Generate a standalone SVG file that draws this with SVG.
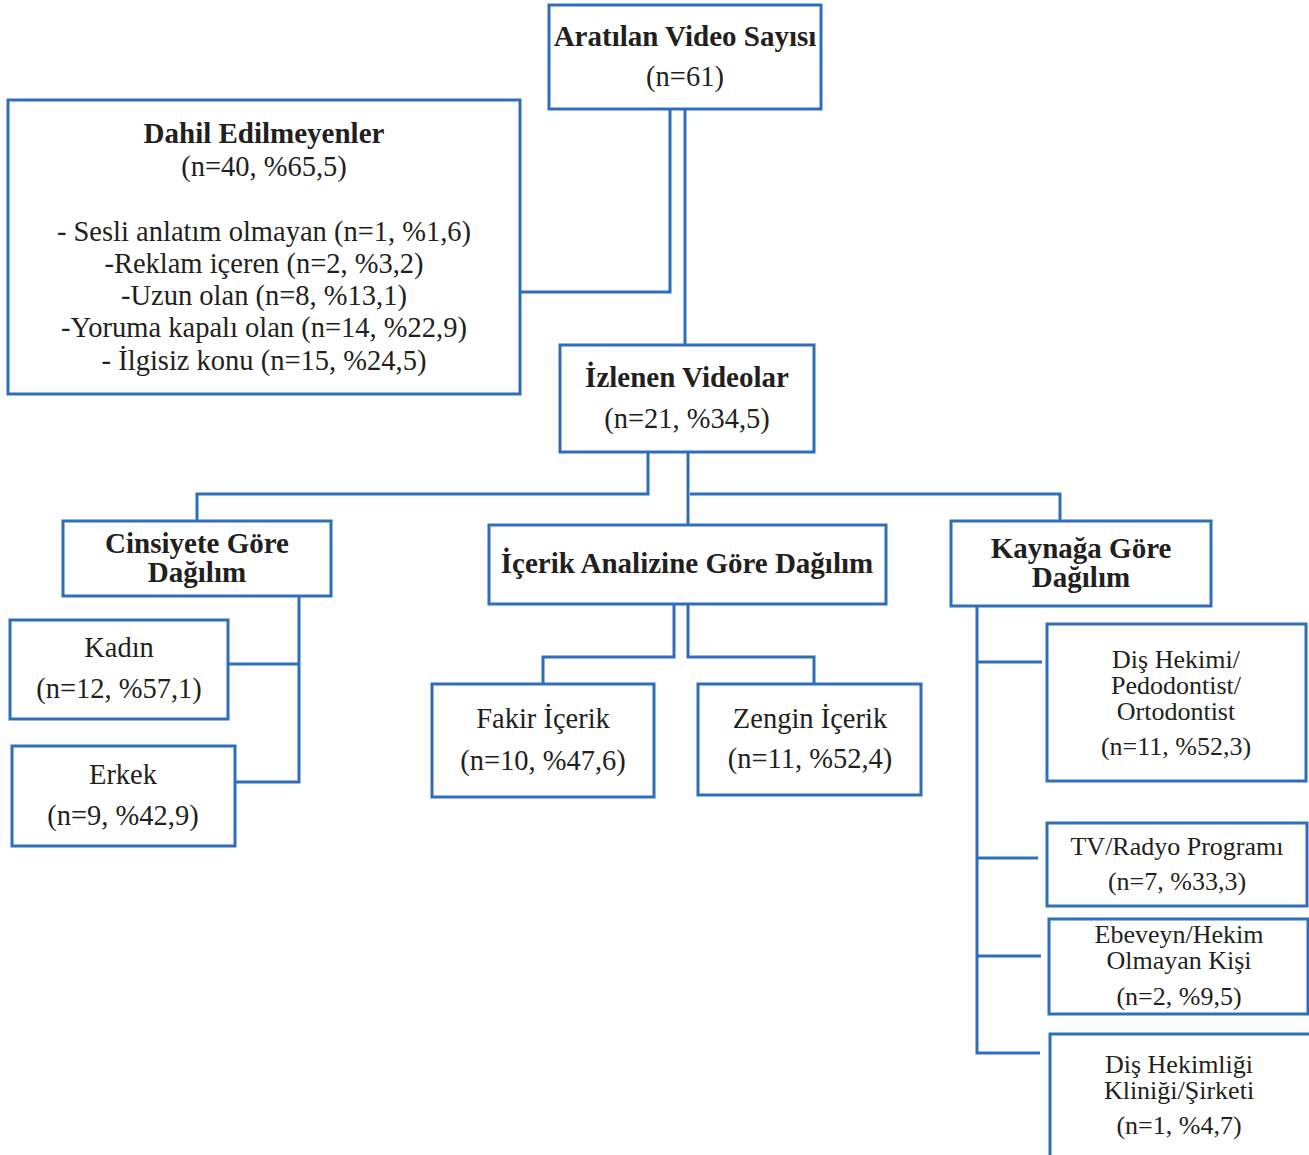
<svg xmlns="http://www.w3.org/2000/svg" width="1309" height="1155" viewBox="0 0 1309 1155">
<style>
.box{fill:#fff;stroke:#2F6EBA;stroke-width:3}
.ln{fill:none;stroke:#2F6EBA;stroke-width:3}
text{font-family:"Liberation Serif","DejaVu Serif",serif;fill:#231F20;text-anchor:middle}
.b{font-weight:bold;font-size:29px}
.t{font-size:28.5px}
.s{font-size:26px}
</style>
<rect width="1309" height="1155" fill="#fff"/>
<g id="connectors">
<polyline class="ln" points="670,109 670,292 520,292"/>
<polyline class="ln" points="685,109 685,345"/>
<polyline class="ln" points="648,452 648,494 197,494 197,521"/>
<polyline class="ln" points="688,452 688,525"/>
<polyline class="ln" points="690,494 1060,494 1060,521"/>
<polyline class="ln" points="299,596 299,782 235,782"/>
<line class="ln" x1="228" y1="664" x2="299" y2="664"/>
<polyline class="ln" points="674,604 674,657 543,657 543,684"/>
<polyline class="ln" points="688,604 688,657 814,657 814,684"/>
<polyline class="ln" points="977,606 977,1053 1040,1053"/>
<line class="ln" x1="977" y1="662" x2="1042" y2="662"/>
<line class="ln" x1="977" y1="858" x2="1038" y2="858"/>
<line class="ln" x1="977" y1="956" x2="1041" y2="956"/>
</g>
<g id="aratilan">
<rect class="box" x="549" y="5" width="272" height="104"/>
<text class="b" x="685" y="46">Aratılan Video Sayısı</text>
<text class="t" x="685" y="86">(n=61)</text>
</g>
<g id="dahil">
<rect class="box" x="8" y="100" width="512" height="294"/>
<text class="b" x="264" y="143">Dahil Edilmeyenler</text>
<text class="t" x="264" y="176">(n=40, %65,5)</text>
<text class="t"><tspan x="264" y="241">- Sesli anlatım olmayan (n=1, %1,6)</tspan><tspan x="264" y="273">-Reklam içeren (n=2, %3,2)</tspan><tspan x="264" y="305">-Uzun olan (n=8, %13,1)</tspan><tspan x="264" y="337">-Yoruma kapalı olan (n=14, %22,9)</tspan><tspan x="264" y="370">- İlgisiz konu (n=15, %24,5)</tspan></text>
</g>
<g id="izlenen">
<rect class="box" x="560" y="345" width="254" height="107"/>
<text class="b" x="687" y="387">İzlenen Videolar</text>
<text class="t" x="687" y="428">(n=21, %34,5)</text>
</g>
<g id="cinsiyet">
<rect class="box" x="63" y="521" width="268" height="75"/>
<text class="b"><tspan x="197" y="553">Cinsiyete Göre</tspan><tspan x="197" y="582">Dağılım</tspan></text>
</g>
<g id="kadin">
<rect class="box" x="10" y="620" width="218" height="99"/>
<text class="t" x="119" y="657">Kadın</text>
<text class="t" x="119" y="698">(n=12, %57,1)</text>
</g>
<g id="erkek">
<rect class="box" x="12" y="746" width="223" height="100"/>
<text class="t" x="123" y="784">Erkek</text>
<text class="t" x="123" y="825">(n=9, %42,9)</text>
</g>
<g id="icerik">
<rect class="box" x="489" y="525" width="397" height="79"/>
<text class="b" x="687" y="573">İçerik Analizine Göre Dağılım</text>
</g>
<g id="fakir">
<rect class="box" x="432" y="684" width="222" height="113"/>
<text class="t" x="543" y="728">Fakir İçerik</text>
<text class="t" x="543" y="770">(n=10, %47,6)</text>
</g>
<g id="zengin">
<rect class="box" x="698" y="684" width="223" height="111"/>
<text class="t" x="810" y="728">Zengin İçerik</text>
<text class="t" x="810" y="768">(n=11, %52,4)</text>
</g>
<g id="kaynak">
<rect class="box" x="951" y="521" width="260" height="85"/>
<text class="b"><tspan x="1081" y="558">Kaynağa Göre</tspan><tspan x="1081" y="587">Dağılım</tspan></text>
</g>
<g id="dishekimi">
<rect class="box" x="1047" y="624" width="259" height="157"/>
<text class="s"><tspan x="1176" y="668">Diş Hekimi/</tspan><tspan x="1176" y="694">Pedodontist/</tspan><tspan x="1176" y="720">Ortodontist</tspan></text>
<text class="s" x="1176" y="755">(n=11, %52,3)</text>
</g>
<g id="tv">
<rect class="box" x="1047" y="823" width="260" height="83"/>
<text class="s" x="1177" y="855">TV/Radyo Programı</text>
<text class="s" x="1177" y="890">(n=7, %33,3)</text>
</g>
<g id="ebeveyn">
<rect class="box" x="1049" y="919" width="259" height="95"/>
<text class="s"><tspan x="1179" y="943">Ebeveyn/Hekim</tspan><tspan x="1179" y="969">Olmayan Kişi</tspan></text>
<text class="s" x="1179" y="1005">(n=2, %9,5)</text>
</g>
<g id="klinik">
<rect class="box" x="1050" y="1034" width="262" height="130"/>
<text class="s"><tspan x="1179" y="1073">Diş Hekimliği</tspan><tspan x="1179" y="1099">Kliniği/Şirketi</tspan></text>
<text class="s" x="1179" y="1134">(n=1, %4,7)</text>
</g>
</svg>
